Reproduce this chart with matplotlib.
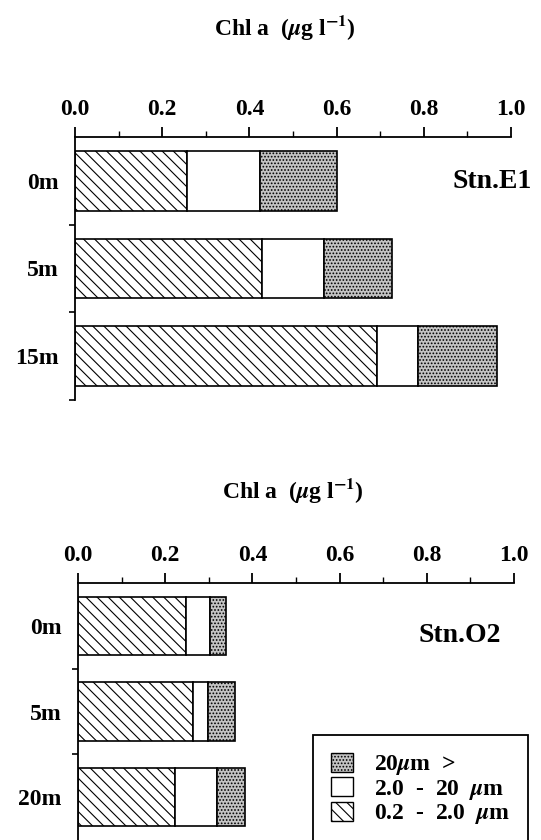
import numpy as np
import matplotlib
matplotlib.use('Agg')
import matplotlib.pyplot as plt
from matplotlib.patches import Patch

plt.rcParams['font.family'] = ['Liberation Serif', 'DejaVu Serif']
plt.rcParams['font.weight'] = 'bold'
plt.rcParams['mathtext.fontset'] = 'stix'
plt.rcParams['hatch.linewidth'] = 0.8

# Station E1
e1_depths = ['0m', '5m', '15m']
e1_pico = [0.258, 0.430, 0.693]   # 0.2 - 2.0 um
e1_nano = [0.166, 0.140, 0.093]   # 2.0 - 20 um
e1_micro = [0.178, 0.158, 0.183]  # 20 um >

# Station O2
o2_depths = ['0m', '5m', '20m']
o2_pico = [0.247, 0.264, 0.223]
o2_nano = [0.055, 0.034, 0.095]
o2_micro = [0.037, 0.061, 0.066]

xticks = [0.0, 0.2, 0.4, 0.6, 0.8, 1.0]
xlabels = ['0.0', '0.2', '0.4', '0.6', '0.8', '1.0']

fig = plt.figure(figsize=(5.41, 8.40), dpi=100)
ax1 = fig.add_axes([75/541, 1-400/840, 436/541, 263/840])
ax2 = fig.add_axes([78/541, 0.0, 436/541, 257/840])

dot_face = '#c4c4c4'


def draw(ax, depths, pico, nano, micro, bottom_tick):
    y = np.arange(len(depths))
    pico = np.array(pico)
    nano = np.array(nano)
    micro = np.array(micro)
    ax.barh(y, pico, height=0.68, color='white', edgecolor='black',
            hatch='\\\\\\', linewidth=1.2)
    ax.barh(y, nano, left=pico, height=0.68, color='white',
            edgecolor='black', linewidth=1.2)
    ax.barh(y, micro, left=pico + nano, height=0.68, color=dot_face,
            edgecolor='black', hatch='.....', linewidth=1.2)
    ax.set_xlim(0, 1.0)
    ax.set_ylim(len(depths) - 0.5, -0.5)
    for s in ['right', 'bottom']:
        ax.spines[s].set_visible(False)
    ax.spines['top'].set_linewidth(1.3)
    ax.spines['left'].set_linewidth(1.3)
    ax.xaxis.tick_top()
    ax.set_xticks(xticks)
    ax.set_xticklabels(xlabels, fontsize=17, fontweight='bold')
    ax.set_xticks(np.arange(0.1, 1.0, 0.2), minor=True)
    ax.tick_params(axis='x', which='major', direction='out', length=7,
                   width=1.3, pad=5)
    ax.tick_params(axis='x', which='minor', direction='out', length=4,
                   width=1.0)
    if bottom_tick:
        ax.set_yticks([0.5, 1.5, 2.5])
    else:
        ax.set_yticks([0.5, 1.5])
    ax.set_yticklabels([])
    ax.tick_params(axis='y', which='major', direction='out', length=4,
                   width=1.2)
    ax.set_yticks(y, minor=True)
    ax.set_yticklabels(depths, minor=True, fontsize=17, fontweight='bold')
    ax.tick_params(axis='y', which='minor', length=0, pad=12)


draw(ax1, e1_depths, e1_pico, e1_nano, e1_micro, True)
draw(ax2, o2_depths, o2_pico, o2_nano, o2_micro, False)

fig.text(285/541, 1-27/840, r'Chl a  ($\mu$g l$^{-1}$)', ha='center',
         va='center', fontsize=17, fontweight='bold')
fig.text(293/541, 1-490/840, r'Chl a  ($\mu$g l$^{-1}$)', ha='center',
         va='center', fontsize=17, fontweight='bold')

fig.text(532/541, 1-182/840, 'Stn.E1', ha='right', va='center',
         fontsize=20, fontweight='bold')
fig.text(501/541, 1-635/840, 'Stn.O2', ha='right', va='center',
         fontsize=20, fontweight='bold')

handles = [
    Patch(facecolor=dot_face, edgecolor='black', hatch='.....'),
    Patch(facecolor='white', edgecolor='black'),
    Patch(facecolor='white', edgecolor='black', hatch='\\\\\\'),
]
labels = [r'20$\mu$m  >', r'2.0  -  20  $\mu$m', r'0.2  -  2.0  $\mu$m']
leg = ax2.legend(handles, labels, loc='upper left',
                 bbox_to_anchor=(313/541, 1-735/840),
                 bbox_transform=fig.transFigure, fontsize=17,
                 handlelength=0.95, handleheight=0.85, handletextpad=0.9,
                 labelspacing=0.0, borderpad=0.75, borderaxespad=0,
                 fancybox=False, framealpha=1)
leg.get_frame().set_edgecolor('black')
leg.get_frame().set_linewidth(1.3)
for t in leg.get_texts():
    t.set_fontweight('bold')

fig.savefig('out.png', dpi=100)
